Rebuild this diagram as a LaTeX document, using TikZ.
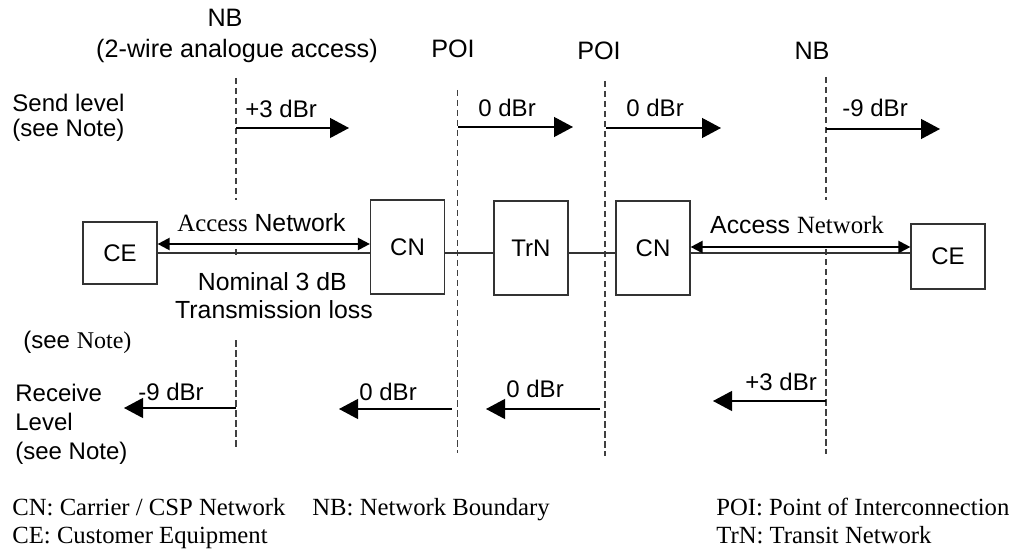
\documentclass[tikz,border=0pt]{standalone}
\usepackage{fontspec}
\setmainfont{Liberation Serif}
\newfontfamily\sansf{Liberation Sans}
\usetikzlibrary{arrows.meta}
\begin{document}
\begin{tikzpicture}[x=0.5pt,y=-0.5pt,
  txt/.style={font=\sansf\fontsize{12}{14}\selectfont, inner sep=0pt, anchor=base},
  txtl/.style={txt, anchor=base west},
  big/.style={font=\sansf\fontsize{12.6}{14}\selectfont},
  mid/.style={font=\sansf\fontsize{12.4}{14}\selectfont},
  leg/.style={font=\rmfamily\fontsize{12.35}{14}\selectfont, inner sep=0pt, anchor=base west},
  boxn/.style={draw=black!80, line width=0.6pt, font=\sansf\fontsize{12}{14}\selectfont, inner sep=0pt, minimum width=37pt},
  bnd/.style={draw=black!75, line width=0.6pt, dash pattern=on 3.25pt off 1.75pt},
  lvl/.style={draw=black, line width=0.6pt, -{Triangle[length=9.5pt,width=10pt]}},
  acc/.style={draw=black, line width=1.1pt, {Triangle[length=6pt,width=6pt]}-{Triangle[length=6pt,width=6pt]}},
  wire/.style={draw=black!80, line width=0.6pt}
]
\fill[white] (0,0) rectangle (1021,550);
\useasboundingbox (0,0) rectangle (1021,550);

% boundary lines
\coordinate (b1a) at (236,78);  \coordinate (b1b) at (236,200);
\coordinate (b1c) at (236,249); \coordinate (b1d) at (236,256);
\coordinate (b1e) at (236,340); \coordinate (b1f) at (236,449);
\coordinate (b2a) at (457.5,90);  \coordinate (b2b) at (457.5,453);
\coordinate (b3a) at (605,81);  \coordinate (b3b) at (605,456);
\coordinate (b4a) at (826,77);  \coordinate (b4b) at (826,200);
\coordinate (b4c) at (826,249); \coordinate (b4d) at (826,454);
\draw[bnd] (b1a) -- (b1b);
\draw[bnd] (b1c) -- (b1d);
\draw[bnd] (b1e) -- (b1f);
\draw[bnd] (b2a) -- (b2b);
\draw[bnd] (b3a) -- (b3b);
\draw[bnd] (b4a) -- (b4b);
\draw[bnd] (b4c) -- (b4d);

% top labels
\node[txt, big] (tNB1) at (225,27) {NB};
\node[txt, big] (tNB1s) at (237,58) {(2-wire analogue access)};
\node[txt, big] (tPOI1) at (453,58) {POI};
\node[txt, big] (tPOI2) at (599,60) {POI};
\node[txt, big] (tNB2) at (812,60) {NB};

% send level
\node[txtl] (sl1) at (12,112) {Send level};
\node[txtl] (sl2) at (12,137) {(see Note)};
\node[txtl] (s1t) at (245,118) {+3 dBr};
\node[txtl] (s2t) at (478,117) {0 dBr};
\node[txtl] (s3t) at (626,117) {0 dBr};
\node[txtl] (s4t) at (842,117) {-9 dBr};
\coordinate (s1a) at (236,128); \coordinate (s1b) at (349,128);
\coordinate (s2a) at (458,127); \coordinate (s2b) at (573,127);
\coordinate (s3a) at (606,128); \coordinate (s3b) at (721,128);
\coordinate (s4a) at (826,129); \coordinate (s4b) at (940,129);
\draw[lvl] (s1a) -- (s1b);
\draw[lvl] (s2a) -- (s2b);
\draw[lvl] (s3a) -- (s3b);
\draw[lvl] (s4a) -- (s4b);

% boxes
\node[boxn, minimum height=31pt] (CEl) at (120,253) {CE};
\node[boxn, minimum height=47pt] (CNl) at (407.5,247) {CN};
\node[boxn, minimum height=47pt] (TrN) at (531,248) {TrN};
\node[boxn, minimum height=47pt] (CNr) at (653,248) {CN};
\node[boxn, minimum height=32.5pt] (CEr) at (948,256.5) {CE};

% connections
\coordinate (yA) at (0,244);
\coordinate (yW) at (0,253);
\coordinate (yB) at (0,247);
\draw[wire] (CEl.east |- yW) -- (CNl.west |- yW);
\draw[acc] (CEl.east |- yA) -- (CNl.west |- yA);
\draw[wire] (CNl.east |- yW) -- (TrN.west |- yW);
\draw[wire] (TrN.east |- yW) -- (CNr.west |- yW);
\draw[wire] (CNr.east |- yW) -- (CEr.west |- yW);
\draw[acc] (CNr.east |- yB) -- (CEr.west |- yB);

\node[txt, mid] (anl) at (261.5,232) {{\rmfamily Access} Network};
\node[txt, mid] (anr) at (797,234) {Access {\rmfamily Network}};
\node[txt, mid] (nom1) at (272.3,291) {Nominal 3 dB};
\node[txt, mid] (nom2) at (274,319) {Transmission loss};
\node[txtl] (note) at (23,348) {(see {\rmfamily Note)}};

% receive level
\node[txtl] (rl1) at (15,401) {Receive};
\node[txtl] (rl2) at (15,430) {Level};
\node[txtl] (rl3) at (15,459) {(see Note)};
\node[txtl] (r1t) at (138,400) {-9 dBr};
\node[txtl] (r2t) at (359,400) {0 dBr};
\node[txtl] (r3t) at (506,397) {0 dBr};
\node[txtl] (r4t) at (745,390) {+3 dBr};
\coordinate (r1a) at (236,408); \coordinate (r1b) at (124,408);
\coordinate (r2a) at (452,409); \coordinate (r2b) at (339,409);
\coordinate (r3a) at (600,409); \coordinate (r3b) at (486,409);
\coordinate (r4a) at (826,401); \coordinate (r4b) at (713,401);
\draw[lvl] (r1a) -- (r1b);
\draw[lvl] (r2a) -- (r2b);
\draw[lvl] (r3a) -- (r3b);
\draw[lvl] (r4a) -- (r4b);

% legend
\node[leg] (lg1) at (12,515) {CN: Carrier / CSP Network};
\node[leg] (lg2) at (12,543) {CE: Customer Equipment};
\node[leg] (lg3) at (312,515) {NB: Network Boundary};
\node[leg] (lg4) at (716,515) {POI: Point of Interconnection};
\node[leg] (lg5) at (716,543) {TrN: Transit Network};
\end{tikzpicture}
\end{document}
